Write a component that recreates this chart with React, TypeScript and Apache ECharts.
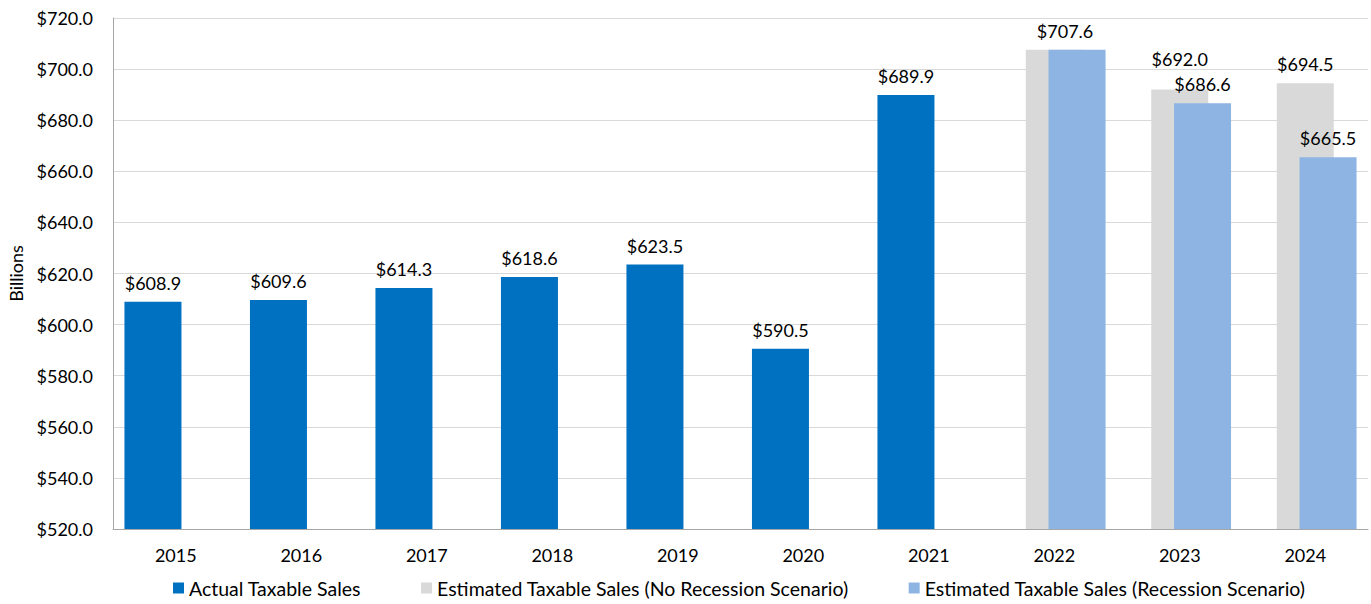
import React, { useEffect, useRef } from "react";
import * as echarts from "echarts";

const years = ["2015", "2016", "2017", "2018", "2019", "2020", "2021", "2022", "2023", "2024"];
const actual = [608.9, 609.6, 614.3, 618.6, 623.5, 590.5, 689.9, null, null, null];
const noRecession = [null, null, null, null, null, null, null, 707.6, 692.0, 694.5];
const recession = [null, null, null, null, null, null, null, 707.6, 686.6, 665.5];
const seriesNames = [
  "Actual Taxable Sales",
  "Estimated Taxable Sales (No Recession Scenario)",
  "Estimated Taxable Sales (Recession Scenario)",
];

const FONT = "Lato, 'Open Sans', sans-serif";

export default function App() {
  const ref = useRef<HTMLDivElement>(null);
  useEffect(() => {
    document.body.style.margin = "0";
    if (!ref.current) return;
    const chart = echarts.init(ref.current, null, { renderer: "svg" });
    const label = {
      show: true,
      position: "top",
      distance: 10,
      fontSize: 18,
      fontFamily: FONT,
      color: "#000",
      formatter: (p: any) => "$" + Number(p.value).toFixed(1),
    };
    const gray = noRecession.map((v, i) => {
      if (v == null) return v;
      if (i === 7) return { value: v, label: { show: false } };
      if (i === 8) return { value: v, label: { offset: [0, -12] } };
      return v;
    });
    const lblue = recession.map((v, i) => {
      if (v == null) return v;
      if (i === 7) return { value: v, label: { offset: [-12, 0] } };
      return v;
    });
    chart.setOption({
      animation: false,
      textStyle: { fontFamily: FONT },
      grid: { left: 113, right: 3, top: 18, bottom: 75, containLabel: false, outerBoundsMode: "none" },
      legend: {
        bottom: 1,
        left: 168,
        itemWidth: 11,
        itemHeight: 11,
        itemGap: 60,
        icon: "rect",
        textStyle: { fontSize: 19.5, fontFamily: FONT, color: "#000" },
        data: seriesNames,
      },
      xAxis: {
        type: "category",
        data: years,
        axisLine: { lineStyle: { color: "#a6a6a6" } },
        axisTick: { show: false },
        axisLabel: { fontSize: 18, fontFamily: FONT, color: "#000", margin: 17 },
      },
      yAxis: {
        type: "value",
        min: 520,
        max: 720,
        interval: 20,
        name: "Billions",
        nameLocation: "middle",
        nameGap: 88,
        nameTextStyle: { fontSize: 18, fontFamily: FONT, color: "#000" },
        axisLine: { show: true, lineStyle: { color: "#a6a6a6" } },
        axisTick: { show: false },
        axisLabel: {
          fontSize: 18,
          fontFamily: FONT,
          color: "#000",
          margin: 20,
          formatter: (v: number) => "$" + v.toFixed(1),
        },
        splitLine: { lineStyle: { color: "#d9d9d9" } },
      },
      series: [
        {
          name: seriesNames[0],
          type: "bar",
          data: actual,
          barWidth: 57,
          barGap: "-60%",
          itemStyle: { color: "#0070C0" },
          label,
        },
        {
          name: seriesNames[1],
          type: "bar",
          data: gray,
          barWidth: 57,
          barGap: "-60%",
          itemStyle: { color: "#D9D9D9" },
          label,
        },
        {
          name: seriesNames[2],
          type: "bar",
          data: lblue,
          barWidth: 57,
          barGap: "-60%",
          itemStyle: { color: "#8EB4E3" },
          label,
        },
      ],
    });
    return () => chart.dispose();
  }, []);
  return <div ref={ref} style={{ width: 1371, height: 604, background: "#fff" }} />;
}
